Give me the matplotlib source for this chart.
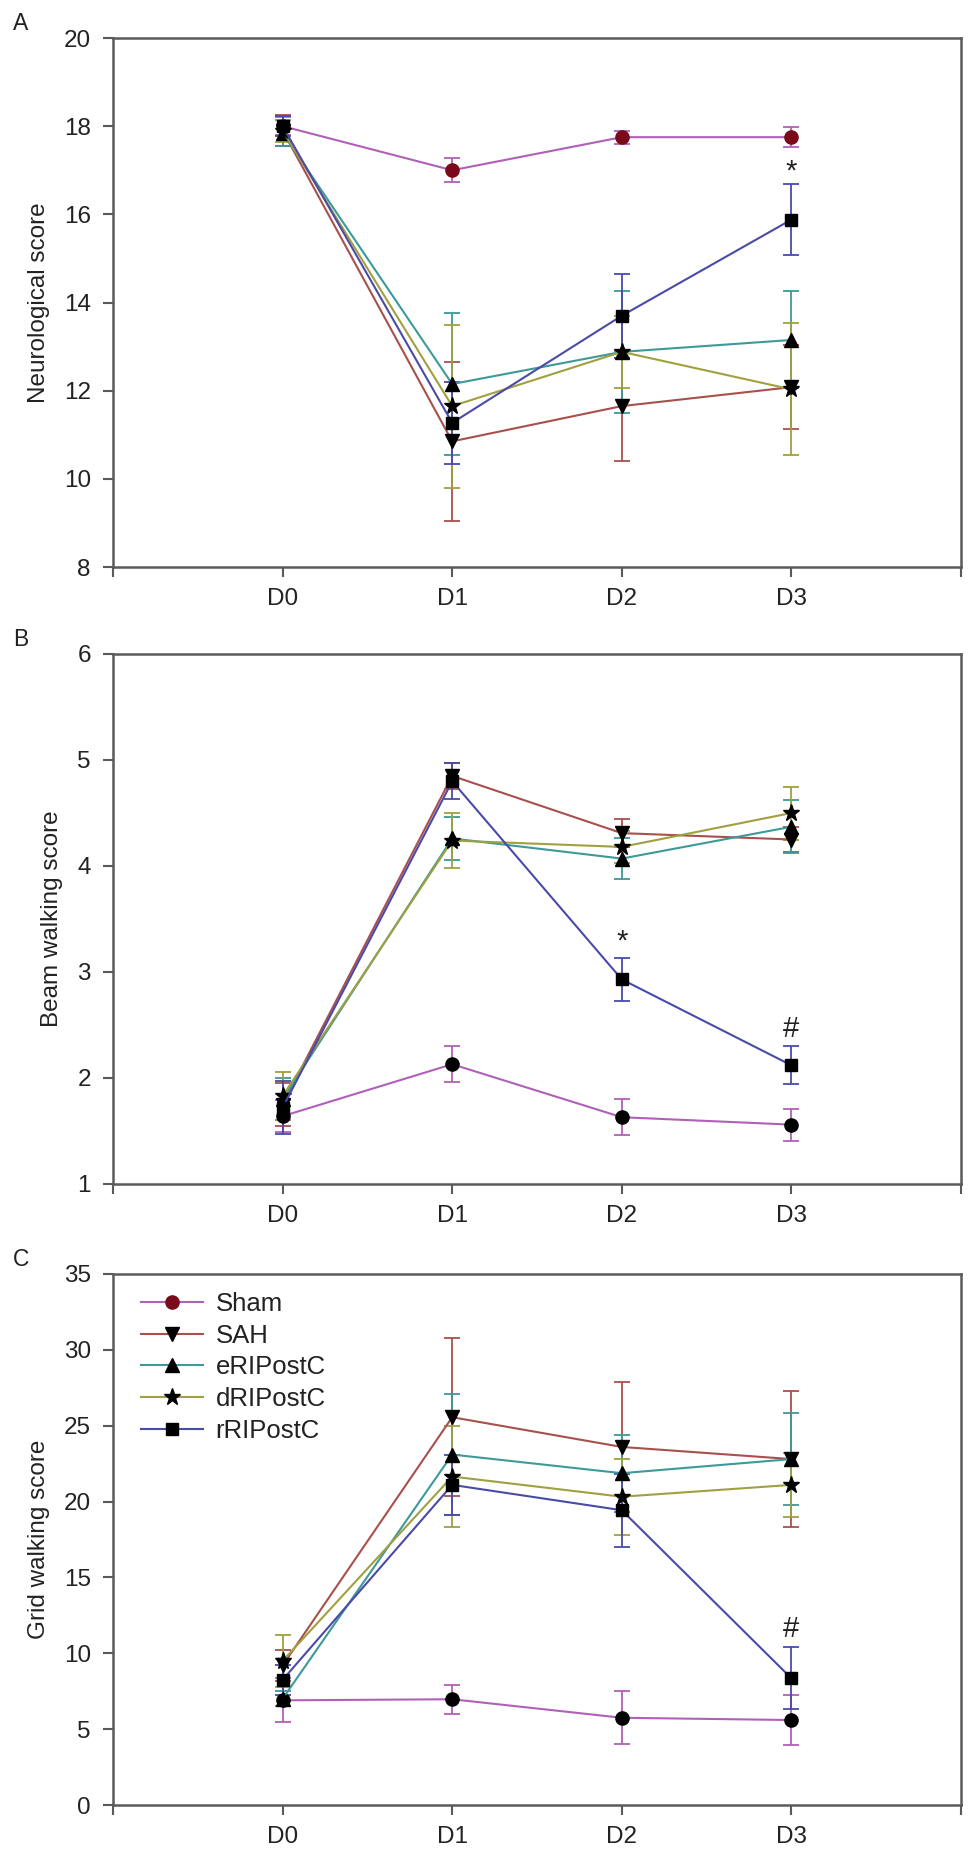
import matplotlib
matplotlib.use("Agg")
import matplotlib.pyplot as plt
from matplotlib.lines import Line2D

plt.rcParams['font.family'] = ['Liberation Sans', 'DejaVu Sans']

days = ['D0', 'D1', 'D2', 'D3']
groups = ['Sham', 'SAH', 'eRIPostC', 'dRIPostC', 'rRIPostC']

# Panel A: Neurological score (mean, error)
neuro_mean = {
    'Sham':     [18.0, 17.0, 17.75, 17.75],
    'SAH':      [17.9, 10.85, 11.65, 12.08],
    'eRIPostC': [17.85, 12.15, 12.88, 13.15],
    'dRIPostC': [17.9, 11.65, 12.88, 12.03],
    'rRIPostC': [18.0, 11.27, 13.7, 15.88],
}
neuro_err = {
    'Sham':     [0.2, 0.27, 0.15, 0.22],
    'SAH':      [0.35, 1.8, 1.25, 0.95],
    'eRIPostC': [0.3, 1.62, 1.38, 1.1],
    'dRIPostC': [0.25, 1.85, 0.82, 1.5],
    'rRIPostC': [0.22, 0.93, 0.95, 0.8],
}

# Panel B: Beam walking score
beam_mean = {
    'Sham':     [1.64, 2.13, 1.63, 1.56],
    'SAH':      [1.75, 4.85, 4.31, 4.25],
    'eRIPostC': [1.8, 4.26, 4.07, 4.37],
    'dRIPostC': [1.83, 4.24, 4.18, 4.5],
    'rRIPostC': [1.72, 4.8, 2.93, 2.12],
}
beam_err = {
    'Sham':     [0.15, 0.17, 0.17, 0.15],
    'SAH':      [0.2, 0.12, 0.13, 0.12],
    'eRIPostC': [0.2, 0.2, 0.19, 0.25],
    'dRIPostC': [0.23, 0.26, 0.15, 0.25],
    'rRIPostC': [0.25, 0.17, 0.2, 0.18],
}

# Panel C: Grid walking score
grid_mean = {
    'Sham':     [6.9, 6.97, 5.75, 5.6],
    'SAH':      [9.2, 25.56, 23.6, 22.8],
    'eRIPostC': [7.0, 23.1, 21.87, 22.8],
    'dRIPostC': [9.5, 21.65, 20.32, 21.1],
    'rRIPostC': [8.25, 21.1, 19.43, 8.35],
}
grid_err = {
    'Sham':     [1.45, 0.97, 1.75, 1.65],
    'SAH':      [1.0, 5.2, 4.3, 4.5],
    'eRIPostC': [0.5, 4.0, 2.55, 3.05],
    'dRIPostC': [1.7, 3.3, 2.5, 2.1],
    'rRIPostC': [1.0, 2.0, 2.4, 2.05],
}

# significance marks: (day index, y value, symbol)
neuro_marks = [(3, 16.96, '*')]
beam_marks = [(2, 3.29, '*'), (3, 2.46, '#')]
grid_marks = [(3, 11.6, '#')]

line_colors = {
    'Sham': '#b060b8',
    'SAH': '#a8504c',
    'eRIPostC': '#3c9a98',
    'dRIPostC': '#a0a040',
    'rRIPostC': '#4a4aa8',
}
markers = {'Sham': 'o', 'SAH': 'v', 'eRIPostC': '^', 'dRIPostC': '*', 'rRIPostC': 's'}
msizes = {'Sham': 9.5, 'SAH': 9.5, 'eRIPostC': 9.5, 'dRIPostC': 12.5, 'rRIPostC': 9}

W, H = 974, 1853
fig = plt.figure(figsize=(W / 100, H / 100), dpi=100)

left = 113 / W
width = (961 - 113) / W
panels = [
    ('A', 38, 567, neuro_mean, neuro_err, neuro_marks, (8, 20), [8, 10, 12, 14, 16, 18, 20], 'Neurological score', True),
    ('B', 654, 1184, beam_mean, beam_err, beam_marks, (1, 6), [1, 2, 3, 4, 5, 6], 'Beam walking score', False),
    ('C', 1274, 1805, grid_mean, grid_err, grid_marks, (0, 35), [0, 5, 10, 15, 20, 25, 30, 35], 'Grid walking score', False),
]

spine_col = '#5a5a5a'
text_col = '#222222'
x = list(range(len(days)))

for label, top, bot, means, errs, marks, ylim, yticks, ylabel, red_sham in panels:
    ax = fig.add_axes([left, 1 - bot / H, width, (bot - top) / H])
    for g in groups:
        mc = '#7a0a1a' if (g == 'Sham' and red_sham) else 'black'
        ax.errorbar(x, means[g], yerr=errs[g], color=line_colors[g], lw=1.5,
                    elinewidth=1.3, capsize=6, capthick=1.3,
                    marker=markers[g], ms=msizes[g], mfc=mc, mec=mc, label=g,
                    zorder=3)
    for di, yv, sym in marks:
        ax.text(x[di], yv, sym, ha='center', va='center', fontsize=21,
                color=text_col, zorder=5)
    ax.set_xlim(-1, 4)
    ax.set_ylim(*ylim)
    ax.set_xticks([-1, 0, 1, 2, 3, 4])
    ax.set_xticklabels([''] + days + [''])
    ax.set_yticks(yticks)
    ax.set_yticklabels([str(t) for t in yticks])
    for s in ax.spines.values():
        s.set_color(spine_col)
        s.set_linewidth(1.8)
    ax.tick_params(axis='both', direction='out', length=7, width=1.5,
                   color=spine_col, labelsize=17.5, labelcolor=text_col)
    ax.tick_params(axis='x', pad=8)
    ax.tick_params(axis='y', pad=9)
    ax.set_ylabel(ylabel, fontsize=17.5, color=text_col, labelpad=10)
    fig.text(21 / W, 1 - (top - 15) / H, label, fontsize=16.5, color=text_col,
             ha='center', va='center')
    if label == 'C':
        hs = []
        for g in groups:
            mc = '#7a0a1a' if g == 'Sham' else 'black'
            hs.append(Line2D([0], [0], color=line_colors[g], lw=1.5,
                             marker=markers[g], ms=msizes[g], mfc=mc, mec=mc))
        leg = ax.legend(hs, groups, loc='upper left', bbox_to_anchor=(0.015, 0.995),
                        frameon=False, fontsize=18.5, handlelength=2.4,
                        labelspacing=0.3, handletextpad=0.5, borderaxespad=0.2)
        for t in leg.get_texts():
            t.set_color(text_col)

fig.savefig('out.png', dpi=100)
